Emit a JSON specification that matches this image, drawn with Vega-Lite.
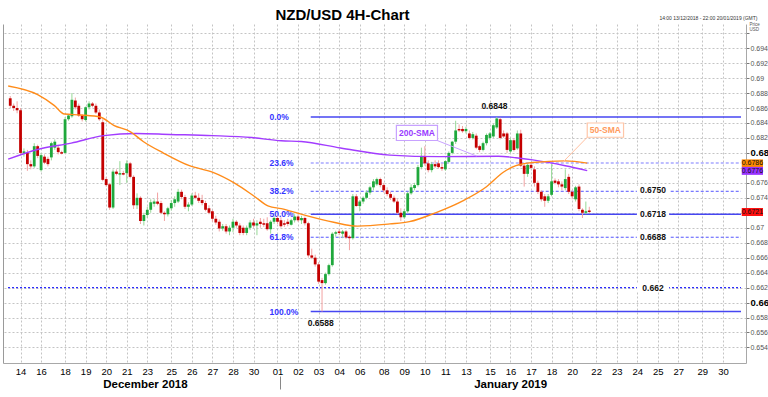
{
"$schema": "https://vega.github.io/schema/vega-lite/v6.json",
"width": 743, "height": 339,
"autosize": {"type": "none"},
"padding": {"left": 3, "top": 24, "right": 22, "bottom": 34},
"background": "white",
"config": {"view": {"stroke": null}, "font": "Liberation Sans"},
"datasets": {
"candles": [
{"i":0,"o":0.6873,"h":0.6876,"l":0.6860,"c":0.6863},
{"i":1,"o":0.6863,"h":0.6866,"l":0.6856,"c":0.6860},
{"i":2,"o":0.6860,"h":0.6869,"l":0.6853,"c":0.6857},
{"i":3,"o":0.6857,"h":0.6860,"l":0.6797,"c":0.6800},
{"i":4,"o":0.6800,"h":0.6806,"l":0.6795,"c":0.6802},
{"i":5,"o":0.6800,"h":0.6804,"l":0.6776,"c":0.6785},
{"i":6,"o":0.6785,"h":0.6790,"l":0.6778,"c":0.6782},
{"i":7,"o":0.6782,"h":0.6813,"l":0.6780,"c":0.6809},
{"i":8,"o":0.6809,"h":0.6811,"l":0.6793,"c":0.6796},
{"i":9,"o":0.6777,"h":0.6800,"l":0.6775,"c":0.6797},
{"i":10,"o":0.6795,"h":0.6798,"l":0.6785,"c":0.6787},
{"i":11,"o":0.6792,"h":0.6795,"l":0.6782,"c":0.6785},
{"i":12,"o":0.6794,"h":0.6815,"l":0.6790,"c":0.6813},
{"i":13,"o":0.6807,"h":0.6818,"l":0.6804,"c":0.6815},
{"i":14,"o":0.6807,"h":0.6810,"l":0.6798,"c":0.6801},
{"i":15,"o":0.6801,"h":0.6803,"l":0.6798,"c":0.6799},
{"i":16,"o":0.6800,"h":0.6848,"l":0.6799,"c":0.6845},
{"i":17,"o":0.6845,"h":0.6852,"l":0.6843,"c":0.6850},
{"i":18,"o":0.6849,"h":0.6880,"l":0.6847,"c":0.6871},
{"i":19,"o":0.6870,"h":0.6874,"l":0.6858,"c":0.6861},
{"i":20,"o":0.6863,"h":0.6866,"l":0.6848,"c":0.6850},
{"i":21,"o":0.6850,"h":0.6852,"l":0.6842,"c":0.6845},
{"i":22,"o":0.6844,"h":0.6862,"l":0.6842,"c":0.6861},
{"i":23,"o":0.6861,"h":0.6869,"l":0.6858,"c":0.6866},
{"i":24,"o":0.6866,"h":0.6868,"l":0.6861,"c":0.6863},
{"i":25,"o":0.6863,"h":0.6866,"l":0.6852,"c":0.6854},
{"i":26,"o":0.6854,"h":0.6858,"l":0.6843,"c":0.6845},
{"i":27,"o":0.6841,"h":0.6845,"l":0.6762,"c":0.6764},
{"i":28,"o":0.6765,"h":0.6768,"l":0.6755,"c":0.6757},
{"i":29,"o":0.6758,"h":0.6760,"l":0.6724,"c":0.6727},
{"i":30,"o":0.6727,"h":0.6778,"l":0.6725,"c":0.6775},
{"i":31,"o":0.6775,"h":0.6778,"l":0.6770,"c":0.6772},
{"i":32,"o":0.6771,"h":0.6789,"l":0.6757,"c":0.6773},
{"i":33,"o":0.6773,"h":0.6776,"l":0.6770,"c":0.6771},
{"i":34,"o":0.6773,"h":0.6790,"l":0.6760,"c":0.6786},
{"i":35,"o":0.6786,"h":0.6788,"l":0.6766,"c":0.6768},
{"i":36,"o":0.6768,"h":0.6770,"l":0.6725,"c":0.6730},
{"i":37,"o":0.6730,"h":0.6746,"l":0.6725,"c":0.6740},
{"i":38,"o":0.6740,"h":0.6742,"l":0.6705,"c":0.6709},
{"i":39,"o":0.6709,"h":0.6720,"l":0.6703,"c":0.6717},
{"i":40,"o":0.6717,"h":0.6728,"l":0.6713,"c":0.6724},
{"i":41,"o":0.6724,"h":0.6738,"l":0.6720,"c":0.6734},
{"i":42,"o":0.6732,"h":0.6738,"l":0.6728,"c":0.6735},
{"i":43,"o":0.6735,"h":0.6747,"l":0.6730,"c":0.6732},
{"i":44,"o":0.6733,"h":0.6736,"l":0.6718,"c":0.6720},
{"i":45,"o":0.6720,"h":0.6722,"l":0.6709,"c":0.6718},
{"i":46,"o":0.6718,"h":0.6728,"l":0.6715,"c":0.6726},
{"i":47,"o":0.6726,"h":0.6737,"l":0.6723,"c":0.6733},
{"i":48,"o":0.6733,"h":0.6742,"l":0.6728,"c":0.6738},
{"i":49,"o":0.6735,"h":0.6752,"l":0.6733,"c":0.6748},
{"i":50,"o":0.6748,"h":0.6751,"l":0.6738,"c":0.6741},
{"i":51,"o":0.6741,"h":0.6744,"l":0.6725,"c":0.6728},
{"i":52,"o":0.6728,"h":0.6734,"l":0.6722,"c":0.6731},
{"i":53,"o":0.6731,"h":0.6746,"l":0.6729,"c":0.6743},
{"i":54,"o":0.6743,"h":0.6748,"l":0.6738,"c":0.6740},
{"i":55,"o":0.6740,"h":0.6746,"l":0.6733,"c":0.6736},
{"i":56,"o":0.6737,"h":0.6744,"l":0.6730,"c":0.6733},
{"i":57,"o":0.6733,"h":0.6736,"l":0.6722,"c":0.6724},
{"i":58,"o":0.6726,"h":0.6730,"l":0.6718,"c":0.6720},
{"i":59,"o":0.6722,"h":0.6724,"l":0.6708,"c":0.6712},
{"i":60,"o":0.6712,"h":0.6716,"l":0.6704,"c":0.6707},
{"i":61,"o":0.6708,"h":0.6711,"l":0.6695,"c":0.6699},
{"i":62,"o":0.6699,"h":0.6705,"l":0.6696,"c":0.6702},
{"i":63,"o":0.6702,"h":0.6705,"l":0.6692,"c":0.6695},
{"i":64,"o":0.6695,"h":0.6703,"l":0.6690,"c":0.6700},
{"i":65,"o":0.6700,"h":0.6712,"l":0.6694,"c":0.6708},
{"i":66,"o":0.6708,"h":0.6710,"l":0.6700,"c":0.6703},
{"i":67,"o":0.6703,"h":0.6706,"l":0.6690,"c":0.6693},
{"i":68,"o":0.6700,"h":0.6703,"l":0.6690,"c":0.6693},
{"i":69,"o":0.6693,"h":0.6703,"l":0.6690,"c":0.6700},
{"i":70,"o":0.6700,"h":0.6710,"l":0.6697,"c":0.6707},
{"i":71,"o":0.6707,"h":0.6712,"l":0.6700,"c":0.6703},
{"i":72,"o":0.6703,"h":0.6710,"l":0.6690,"c":0.6706},
{"i":73,"o":0.6708,"h":0.6713,"l":0.6700,"c":0.6705},
{"i":74,"o":0.6706,"h":0.6712,"l":0.6701,"c":0.6704},
{"i":75,"o":0.6706,"h":0.6714,"l":0.6696,"c":0.6698},
{"i":76,"o":0.6698,"h":0.6710,"l":0.6692,"c":0.6708},
{"i":77,"o":0.6708,"h":0.6716,"l":0.6705,"c":0.6713},
{"i":78,"o":0.6713,"h":0.6716,"l":0.6705,"c":0.6708},
{"i":79,"o":0.6710,"h":0.6714,"l":0.6700,"c":0.6702},
{"i":80,"o":0.6706,"h":0.6710,"l":0.6701,"c":0.6704},
{"i":81,"o":0.6708,"h":0.6712,"l":0.6702,"c":0.6705},
{"i":82,"o":0.6704,"h":0.6712,"l":0.6703,"c":0.6710},
{"i":83,"o":0.6710,"h":0.6718,"l":0.6707,"c":0.6715},
{"i":84,"o":0.6715,"h":0.6718,"l":0.6708,"c":0.6710},
{"i":85,"o":0.6710,"h":0.6716,"l":0.6705,"c":0.6713},
{"i":86,"o":0.6713,"h":0.6715,"l":0.6703,"c":0.6706},
{"i":87,"o":0.6706,"h":0.6708,"l":0.6660,"c":0.6663},
{"i":88,"o":0.6663,"h":0.6672,"l":0.6658,"c":0.6660},
{"i":89,"o":0.6660,"h":0.6664,"l":0.6648,"c":0.6651},
{"i":90,"o":0.6651,"h":0.6654,"l":0.6625,"c":0.6628},
{"i":91,"o":0.6630,"h":0.6633,"l":0.6588,"c":0.6626},
{"i":92,"o":0.6626,"h":0.6640,"l":0.6624,"c":0.6638},
{"i":93,"o":0.6638,"h":0.6652,"l":0.6636,"c":0.6650},
{"i":94,"o":0.6650,"h":0.6694,"l":0.6648,"c":0.6692},
{"i":95,"o":0.6692,"h":0.6696,"l":0.6688,"c":0.6694},
{"i":96,"o":0.6695,"h":0.6698,"l":0.6690,"c":0.6693},
{"i":97,"o":0.6692,"h":0.6697,"l":0.6686,"c":0.6695},
{"i":98,"o":0.6695,"h":0.6697,"l":0.6685,"c":0.6687},
{"i":99,"o":0.6688,"h":0.6690,"l":0.6670,"c":0.6686},
{"i":100,"o":0.6686,"h":0.6745,"l":0.6684,"c":0.6742},
{"i":101,"o":0.6742,"h":0.6745,"l":0.6728,"c":0.6729},
{"i":102,"o":0.6729,"h":0.6737,"l":0.6722,"c":0.6735},
{"i":103,"o":0.6735,"h":0.6742,"l":0.6732,"c":0.6740},
{"i":104,"o":0.6740,"h":0.6750,"l":0.6738,"c":0.6747},
{"i":105,"o":0.6747,"h":0.6756,"l":0.6744,"c":0.6754},
{"i":106,"o":0.6754,"h":0.6765,"l":0.6750,"c":0.6762},
{"i":107,"o":0.6758,"h":0.6767,"l":0.6756,"c":0.6765},
{"i":108,"o":0.6765,"h":0.6767,"l":0.6754,"c":0.6757},
{"i":109,"o":0.6757,"h":0.6760,"l":0.6747,"c":0.6750},
{"i":110,"o":0.6750,"h":0.6754,"l":0.6742,"c":0.6745},
{"i":111,"o":0.6745,"h":0.6748,"l":0.6737,"c":0.6740},
{"i":112,"o":0.6740,"h":0.6743,"l":0.6733,"c":0.6735},
{"i":113,"o":0.6735,"h":0.6738,"l":0.6718,"c":0.6720},
{"i":114,"o":0.6720,"h":0.6726,"l":0.6709,"c":0.6714},
{"i":115,"o":0.6714,"h":0.6725,"l":0.6712,"c":0.6722},
{"i":116,"o":0.6722,"h":0.6748,"l":0.6720,"c":0.6746},
{"i":117,"o":0.6746,"h":0.6758,"l":0.6744,"c":0.6754},
{"i":118,"o":0.6753,"h":0.6760,"l":0.6750,"c":0.6757},
{"i":119,"o":0.6757,"h":0.6784,"l":0.6755,"c":0.6781},
{"i":120,"o":0.6781,"h":0.6807,"l":0.6778,"c":0.6796},
{"i":121,"o":0.6796,"h":0.6809,"l":0.6783,"c":0.6786},
{"i":122,"o":0.6786,"h":0.6790,"l":0.6774,"c":0.6777},
{"i":123,"o":0.6777,"h":0.6788,"l":0.6774,"c":0.6785},
{"i":124,"o":0.6785,"h":0.6790,"l":0.6780,"c":0.6782},
{"i":125,"o":0.6786,"h":0.6790,"l":0.6779,"c":0.6781},
{"i":126,"o":0.6781,"h":0.6786,"l":0.6776,"c":0.6779},
{"i":127,"o":0.6778,"h":0.6790,"l":0.6776,"c":0.6789},
{"i":128,"o":0.6788,"h":0.6802,"l":0.6786,"c":0.6800},
{"i":129,"o":0.6800,"h":0.6816,"l":0.6798,"c":0.6815},
{"i":130,"o":0.6815,"h":0.6843,"l":0.6812,"c":0.6830},
{"i":131,"o":0.6832,"h":0.6838,"l":0.6828,"c":0.6830},
{"i":132,"o":0.6832,"h":0.6836,"l":0.6827,"c":0.6829},
{"i":133,"o":0.6829,"h":0.6835,"l":0.6826,"c":0.6832},
{"i":134,"o":0.6826,"h":0.6830,"l":0.6818,"c":0.6820},
{"i":135,"o":0.6820,"h":0.6828,"l":0.6818,"c":0.6825},
{"i":136,"o":0.6823,"h":0.6826,"l":0.6805,"c":0.6807},
{"i":137,"o":0.6809,"h":0.6811,"l":0.6801,"c":0.6804},
{"i":138,"o":0.6804,"h":0.6815,"l":0.6802,"c":0.6813},
{"i":139,"o":0.6813,"h":0.6826,"l":0.6810,"c":0.6824},
{"i":140,"o":0.6820,"h":0.6828,"l":0.6817,"c":0.6826},
{"i":141,"o":0.6822,"h":0.6839,"l":0.6820,"c":0.6837},
{"i":142,"o":0.6834,"h":0.6848,"l":0.6832,"c":0.6846},
{"i":143,"o":0.6845,"h":0.6847,"l":0.6818,"c":0.6820},
{"i":144,"o":0.6826,"h":0.6830,"l":0.6820,"c":0.6822},
{"i":145,"o":0.6826,"h":0.6828,"l":0.6800,"c":0.6804},
{"i":146,"o":0.6802,"h":0.6820,"l":0.6800,"c":0.6817},
{"i":147,"o":0.6817,"h":0.6820,"l":0.6802,"c":0.6804},
{"i":148,"o":0.6806,"h":0.6830,"l":0.6804,"c":0.6826},
{"i":149,"o":0.6826,"h":0.6831,"l":0.6781,"c":0.6783},
{"i":150,"o":0.6783,"h":0.6785,"l":0.6755,"c":0.6772},
{"i":151,"o":0.6772,"h":0.6786,"l":0.6768,"c":0.6784},
{"i":152,"o":0.6784,"h":0.6787,"l":0.6778,"c":0.6780},
{"i":153,"o":0.6778,"h":0.6782,"l":0.6755,"c":0.6760},
{"i":154,"o":0.6760,"h":0.6763,"l":0.6745,"c":0.6748},
{"i":155,"o":0.6748,"h":0.6750,"l":0.6735,"c":0.6738},
{"i":156,"o":0.6742,"h":0.6745,"l":0.6728,"c":0.6736},
{"i":157,"o":0.6736,"h":0.6745,"l":0.6733,"c":0.6742},
{"i":158,"o":0.6744,"h":0.6785,"l":0.6742,"c":0.6762},
{"i":159,"o":0.6763,"h":0.6766,"l":0.6758,"c":0.6760},
{"i":160,"o":0.6762,"h":0.6765,"l":0.6754,"c":0.6758},
{"i":161,"o":0.6758,"h":0.6762,"l":0.6750,"c":0.6755},
{"i":162,"o":0.6753,"h":0.6778,"l":0.6750,"c":0.6765},
{"i":163,"o":0.6768,"h":0.6772,"l":0.6745,"c":0.6748},
{"i":164,"o":0.6748,"h":0.6750,"l":0.6738,"c":0.6742},
{"i":165,"o":0.6738,"h":0.6756,"l":0.6735,"c":0.6754},
{"i":166,"o":0.6755,"h":0.6758,"l":0.6722,"c":0.6725},
{"i":167,"o":0.6724,"h":0.6726,"l":0.6713,"c":0.6720},
{"i":168,"o":0.6720,"h":0.6735,"l":0.6718,"c":0.6722},
{"i":169,"o":0.6723,"h":0.6728,"l":0.6719,"c":0.6721}
],
"sma200": [
{"i":-0.6,"v":0.67916},{"i":8,"v":0.68045},{"i":17.8,"v":0.68131},{"i":27.3,"v":0.68231},{"i":36.8,"v":0.6826},{"i":46.6,"v":0.68247},{"i":59,"v":0.68231},{"i":70.5,"v":0.68205},{"i":79.1,"v":0.68162},{"i":84.9,"v":0.68153},{"i":96.4,"v":0.68066},{"i":110.8,"v":0.67971},{"i":125.2,"v":0.6795},{"i":142.5,"v":0.67955},{"i":147.6,"v":0.67936},{"i":152.5,"v":0.67907},{"i":162,"v":0.67829},{"i":168.4,"v":0.67764}
],
"sma50": [
{"i":-0.6,"v":0.68895},{"i":8,"v":0.68779},{"i":12.9,"v":0.68632},{"i":15.8,"v":0.6852},{"i":20.6,"v":0.68507},{"i":26.4,"v":0.68477},{"i":30.2,"v":0.68369},{"i":35.1,"v":0.68282},{"i":38.8,"v":0.68153},{"i":44.6,"v":0.68001},{"i":52.3,"v":0.67829},{"i":59,"v":0.67742},{"i":65.6,"v":0.67592},{"i":71.3,"v":0.67418},{"i":75.4,"v":0.67288},{"i":79.1,"v":0.67255},{"i":84.9,"v":0.67181},{"i":94.4,"v":0.67073},{"i":101.3,"v":0.67022},{"i":110.8,"v":0.67051},{"i":116.5,"v":0.67081},{"i":124.3,"v":0.67203},{"i":131.8,"v":0.67353},{"i":139,"v":0.67548},{"i":143.9,"v":0.67742},{"i":147.6,"v":0.67829},{"i":152.5,"v":0.67872},{"i":162,"v":0.67894},{"i":168.4,"v":0.67864}
],
"fib": [
{"level":"0.0%","price":0.6848,"kind":"solid"},{"level":"23.6%","price":0.67866,"kind":"light"},{"level":"38.2%","price":0.67487,"kind":"dashed"},{"level":"50.0%","price":0.6718,"kind":"solid"},{"level":"61.8%","price":0.66873,"kind":"dashed"},{"level":"100.0%","price":0.6588,"kind":"solid"}
],
"levels": [
{"label":"0.6750","price":0.675},{"label":"0.6718","price":0.6718},{"label":"0.6688","price":0.6688},{"label":"0.662","price":0.662}
],
"extremes": [
{"label":"0.6848","price":0.6848,"i":141.3,"kind":"high"},{"label":"0.6588","price":0.6588,"i":90.6,"kind":"low"}
],
"tags": [
{"label":"0.6786","price":0.6786,"kind":"50-SMA"},{"label":"0.6776","price":0.6776,"kind":"200-SMA"},{"label":"0.6721","price":0.6721,"kind":"last"}
]
},
"layer": [
{"data": {"name": "fib"}, "transform": [{"filter": "datum.kind == 'solid'"}], "mark": {"type": "rule", "color": "#4646f2", "strokeWidth": 1.6},
 "encoding": {
  "x": {"datum": 87.7, "type": "quantitative", "scale": {"domain": [-0.656, 213.28], "nice": false, "zero": false}, "axis": null},
  "x2": {"datum": 213.28},
  "y": {"field": "price", "type": "quantitative", "scale": {"domain": [0.65259, 0.69656], "nice": false, "zero": false}, "axis": null}
 }},
{"data": {"name": "fib"}, "transform": [{"filter": "datum.kind == 'dashed'"}], "mark": {"type": "rule", "color": "#5555ff", "strokeWidth": 1, "strokeDash": [3,2]},
 "encoding": {
  "x": {"datum": 87.7, "type": "quantitative", "scale": {"domain": [-0.656, 213.28], "nice": false, "zero": false}, "axis": null},
  "x2": {"datum": 213.28},
  "y": {"field": "price", "type": "quantitative", "scale": {"domain": [0.65259, 0.69656], "nice": false, "zero": false}, "axis": null}
 }},
{"data": {"name": "fib"}, "transform": [{"filter": "datum.kind == 'light'"}], "mark": {"type": "rule", "color": "#a8a8ff", "strokeWidth": 1.5, "strokeDash": [3,2]},
 "encoding": {
  "x": {"datum": 87.7, "type": "quantitative", "scale": {"domain": [-0.656, 213.28], "nice": false, "zero": false}, "axis": null},
  "x2": {"datum": 213.28},
  "y": {"field": "price", "type": "quantitative", "scale": {"domain": [0.65259, 0.69656], "nice": false, "zero": false}, "axis": null}
 }},
{"data": {"name": "levels"}, "transform": [{"filter": "datum.label == '0.662'"}],
 "mark": {"type": "rule", "color": "#2d2dff", "strokeDash": [2,2], "strokeWidth": 1.2},
 "encoding": {
  "x": {"datum": -0.656, "type": "quantitative", "scale": {"domain": [-0.656, 213.28], "nice": false, "zero": false}, "axis": null},
  "x2": {"datum": 213.28},
  "y": {"field": "price", "type": "quantitative", "scale": {"domain": [0.65259, 0.69656], "nice": false, "zero": false}, "axis": null}
 }},
{"data": {"name": "levels"}, "mark": {"type": "bar", "color": "white", "height": 9, "orient": "horizontal"},
 "encoding": {
  "x": {"datum": 182.9, "type": "quantitative", "scale": {"domain": [-0.656, 213.28], "nice": false, "zero": false}, "axis": null},
  "x2": {"datum": 192.3},
  "y": {"field": "price", "type": "quantitative", "scale": {"domain": [0.65259, 0.69656], "nice": false, "zero": false}, "axis": null}
 }},
{"data": {"name": "levels"}, "mark": {"type": "text", "font": "Liberation Sans", "fontSize": 8.5, "fontWeight": "bold", "color": "#111", "align": "center", "baseline": "middle"},
 "encoding": {
  "x": {"datum": 187.6, "type": "quantitative", "scale": {"domain": [-0.656, 213.28], "nice": false, "zero": false}, "axis": null},
  "y": {"field": "price", "type": "quantitative", "scale": {"domain": [0.65259, 0.69656], "nice": false, "zero": false}, "axis": null},
  "text": {"field": "label"}
 }},
{"data": {"name": "fib"}, "mark": {"type": "text", "font": "Liberation Sans", "fontSize": 8.5, "fontWeight": "bold", "color": "#3535ff", "align": "left", "baseline": "middle"},
 "encoding": {
  "x": {"datum": 75.65, "type": "quantitative", "scale": {"domain": [-0.656, 213.28], "nice": false, "zero": false}, "axis": null},
  "y": {"field": "price", "type": "quantitative", "scale": {"domain": [0.65259, 0.69656], "nice": false, "zero": false}, "axis": null},
  "text": {"field": "level"}
 }},
{"data": {"name": "extremes"}, "transform": [{"filter": "datum.kind == 'high'"}],
 "mark": {"type": "text", "font": "Liberation Sans", "fontSize": 8.5, "fontWeight": "bold", "color": "#111", "align": "center", "baseline": "middle", "dy": -11},
 "encoding": {
  "x": {"field": "i", "type": "quantitative", "scale": {"domain": [-0.656, 213.28], "nice": false, "zero": false}, "axis": null},
  "y": {"field": "price", "type": "quantitative", "scale": {"domain": [0.65259, 0.69656], "nice": false, "zero": false}, "axis": null},
  "text": {"field": "label"}
 }},
{"data": {"name": "extremes"}, "transform": [{"filter": "datum.kind == 'low'"}],
 "mark": {"type": "text", "font": "Liberation Sans", "fontSize": 8.5, "fontWeight": "bold", "color": "#111", "align": "center", "baseline": "middle", "dy": 11},
 "encoding": {
  "x": {"field": "i", "type": "quantitative", "scale": {"domain": [-0.656, 213.28], "nice": false, "zero": false}, "axis": null},
  "y": {"field": "price", "type": "quantitative", "scale": {"domain": [0.65259, 0.69656], "nice": false, "zero": false}, "axis": null},
  "text": {"field": "label"}
 }},
{"data": {"name": "candles"}, "mark": {"type": "rule", "strokeWidth": 1},
 "encoding": {
  "x": {"field": "i", "type": "quantitative", "scale": {"domain": [-0.656, 213.28], "nice": false, "zero": false},
        "axis": {"orient": "bottom", "values": [3,9,16,22,28,34,40,47,53,59,65,71,78,84,90,96,102,109,115,121,127,133,140,146,152,158,164,171,177,183,189,195,202,208],
                 "labelExpr": "['14','16','18','19','20','21','23','25','26','27','28','30','01','02','03','04','06','08','09','10','11','13','15','16','17','18','20','22','23','24','25','27','29','30'][indexof([3,9,16,22,28,34,40,47,53,59,65,71,78,84,90,96,102,109,115,121,127,133,140,146,152,158,164,171,177,183,189,195,202,208], datum.value)]",
                 "title": null, "grid": true, "gridColor": "#c4c4c4", "gridDash": [2,2], "gridWidth": 1, "ticks": false, "domain": true, "domainColor": "#a8a8a8", "domainWidth": 1,
                 "labelFont": "Liberation Sans", "labelFontSize": 9.5, "labelColor": "#000", "labelPadding": 3, "labelFlush": false, "labelOverlap": false, "labelBound": false}},
  "y": {"field": "l", "type": "quantitative", "scale": {"domain": [0.65259, 0.69656], "nice": false, "zero": false},
        "axis": {"orient": "right", "values": [0.654,0.656,0.658,0.66,0.662,0.664,0.666,0.668,0.67,0.672,0.674,0.676,0.678,0.68,0.682,0.684,0.686,0.688,0.69,0.692,0.694,0.696],
                 "format": ".3~f", "labelExpr": "(datum.value > 0.695 || abs(datum.value - 0.678) < 1e-6 || abs(datum.value - 0.672) < 1e-6) ? '' : datum.label",
                 "grid": true, "gridColor": "#c4c4c4", "gridDash": [2,2], "gridWidth": 1,
                 "ticks": true, "tickSize": 3, "tickColor": "#777", "domain": true, "domainColor": "#a8a8a8",
                 "labelFont": "Liberation Sans", "labelPadding": 1, "labelOverlap": false, "labelBound": false, "labelFlush": false,
                 "labelFontSize": {"condition": {"test": "abs(datum.value - 0.68) < 1e-6 || abs(datum.value - 0.66) < 1e-6", "value": 9.5}, "value": 7},
                 "labelFontWeight": {"condition": {"test": "abs(datum.value - 0.68) < 1e-6 || abs(datum.value - 0.66) < 1e-6", "value": "bold"}, "value": "normal"},
                 "labelColor": {"condition": {"test": "abs(datum.value - 0.68) < 1e-6 || abs(datum.value - 0.66) < 1e-6", "value": "#000"}, "value": "#555"},
                 "title": ["Price", "USD"], "titleFont": "Liberation Sans", "titleFontSize": 4.5, "titleFontWeight": "normal", "titleColor": "#555", "titleAngle": 0, "titleAlign": "left", "titleBaseline": "top", "titleX": 3, "titleY": -3, "titleLineHeight": 5.5}},
  "y2": {"field": "h"},
  "color": {"condition": {"test": "datum.c >= datum.o", "value": "#96d896"}, "value": "#f2a2a2"}
 }},
{"data": {"name": "candles"}, "mark": {"type": "bar", "width": 2.8},
 "encoding": {
  "x": {"field": "i", "type": "quantitative", "scale": {"domain": [-0.656, 213.28], "nice": false, "zero": false},
        "axis": {"orient": "bottom", "values": [39.3, 78.6, 145.9], "labelExpr": "datum.value < 50 ? 'December 2018' : (datum.value > 100 ? 'January 2019' : '')",
                 "title": null, "grid": false, "domain": false, "offset": 13, "ticks": true, "tickSize": 13, "tickWidth": 1,
                 "tickColor": {"condition": {"test": "datum.value > 70 && datum.value < 90", "value": "#888"}, "value": "transparent"},
                 "labelFont": "Liberation Sans", "labelFontSize": 11.5, "labelFontWeight": "bold", "labelColor": "#000", "labelPadding": -11, "labelFlush": false, "labelOverlap": false, "labelBound": false}},
  "y": {"field": "o", "type": "quantitative", "scale": {"domain": [0.65259, 0.69656], "nice": false, "zero": false},
        "axis": {"orient": "left", "labels": false, "ticks": false, "grid": false, "domain": true, "domainColor": "#9a9a9a",
                 "title": "14:00 13/12/2018 - 22:00 20/01/2019 (GMT)", "titleFont": "Liberation Sans", "titleFontSize": 5, "titleFontWeight": "normal", "titleColor": "#333",
                 "titleAngle": 0, "titleAlign": "right", "titleBaseline": "alphabetic", "titleX": 754, "titleY": -5}},
  "y2": {"field": "c"},
  "color": {"condition": {"test": "datum.c >= datum.o", "value": "#1fa83c"}, "value": "#c40000"}
 }},
{"data": {"name": "sma200"}, "mark": {"type": "line", "interpolate": "monotone", "strokeWidth": 1.4, "color": "#a23cff"},
 "encoding": {
  "x": {"field": "i", "type": "quantitative", "scale": {"domain": [-0.656, 213.28], "nice": false, "zero": false},
        "axis": {"orient": "top", "labels": false, "ticks": false, "grid": false, "domain": false,
                 "title": "NZD/USD 4H-Chart", "titleFont": "Liberation Sans", "titleFontSize": 15, "titleFontWeight": "bold", "titleColor": "#000",
                 "titleAlign": "center", "titleX": 339, "titleY": -5, "titleBaseline": "alphabetic"}},
  "y": {"field": "v", "type": "quantitative", "scale": {"domain": [0.65259, 0.69656], "nice": false, "zero": false}, "axis": null}
 }},
{"data": {"name": "sma50"}, "mark": {"type": "line", "interpolate": "monotone", "strokeWidth": 1.4, "color": "#ff8c1a"},
 "encoding": {
  "x": {"field": "i", "type": "quantitative", "scale": {"domain": [-0.656, 213.28], "nice": false, "zero": false}, "axis": null},
  "y": {"field": "v", "type": "quantitative", "scale": {"domain": [0.65259, 0.69656], "nice": false, "zero": false}, "axis": null}
 }},
{"data": {"values": [{}]}, "mark": {"type": "rule", "color": "#c8a2ff", "strokeWidth": 1},
 "encoding": {
  "x": {"datum": 124.6, "type": "quantitative", "scale": {"domain": [-0.656, 213.28], "nice": false, "zero": false}, "axis": null},
  "x2": {"datum": 136.1},
  "y": {"datum": 0.68166, "type": "quantitative", "scale": {"domain": [0.65259, 0.69656], "nice": false, "zero": false}, "axis": null},
  "y2": {"datum": 0.67958}
 }},
{"data": {"values": [{}]}, "mark": {"type": "rect", "fill": "white", "stroke": "#c8a2ff", "strokeWidth": 1.2},
 "encoding": {
  "x": {"datum": 112.7, "type": "quantitative", "scale": {"domain": [-0.656, 213.28], "nice": false, "zero": false}, "axis": null},
  "x2": {"datum": 124.7},
  "y": {"datum": 0.68369, "type": "quantitative", "scale": {"domain": [0.65259, 0.69656], "nice": false, "zero": false}, "axis": null},
  "y2": {"datum": 0.68166}
 }},
{"data": {"values": [{}]}, "mark": {"type": "text", "text": "200-SMA", "font": "Liberation Sans", "fontSize": 8.5, "fontWeight": "bold", "color": "#9a3cff", "align": "center", "baseline": "middle"},
 "encoding": {
  "x": {"datum": 118.7, "type": "quantitative", "scale": {"domain": [-0.656, 213.28], "nice": false, "zero": false}, "axis": null},
  "y": {"datum": 0.68268, "type": "quantitative", "scale": {"domain": [0.65259, 0.69656], "nice": false, "zero": false}, "axis": null}
 }},
{"data": {"values": [{}]}, "mark": {"type": "rule", "color": "#ffc0a0", "strokeWidth": 1},
 "encoding": {
  "x": {"datum": 168.4, "type": "quantitative", "scale": {"domain": [-0.656, 213.28], "nice": false, "zero": false}, "axis": null},
  "x2": {"datum": 161.2},
  "y": {"datum": 0.68209, "type": "quantitative", "scale": {"domain": [0.65259, 0.69656], "nice": false, "zero": false}, "axis": null},
  "y2": {"datum": 0.67872}
 }},
{"data": {"values": [{}]}, "mark": {"type": "rect", "fill": "white", "stroke": "#ffc6a8", "strokeWidth": 1.2},
 "encoding": {
  "x": {"datum": 168.4, "type": "quantitative", "scale": {"domain": [-0.656, 213.28], "nice": false, "zero": false}, "axis": null},
  "x2": {"datum": 179.0},
  "y": {"datum": 0.684, "type": "quantitative", "scale": {"domain": [0.65259, 0.69656], "nice": false, "zero": false}, "axis": null},
  "y2": {"datum": 0.68209}
 }},
{"data": {"values": [{}]}, "mark": {"type": "text", "text": "50-SMA", "font": "Liberation Sans", "fontSize": 8.5, "fontWeight": "bold", "color": "#ff9a5c", "align": "center", "baseline": "middle"},
 "encoding": {
  "x": {"datum": 173.7, "type": "quantitative", "scale": {"domain": [-0.656, 213.28], "nice": false, "zero": false}, "axis": null},
  "y": {"datum": 0.68305, "type": "quantitative", "scale": {"domain": [0.65259, 0.69656], "nice": false, "zero": false}, "axis": null}
 }},
{"data": {"name": "tags"}, "mark": {"type": "bar", "height": 8, "orient": "horizontal"},
 "encoding": {
  "x": {"datum": 213.5, "type": "quantitative", "scale": {"domain": [-0.656, 213.28], "nice": false, "zero": false}, "axis": null},
  "x2": {"datum": 219.7},
  "y": {"field": "price", "type": "quantitative", "scale": {"domain": [0.65259, 0.69656], "nice": false, "zero": false}, "axis": null},
  "color": {"field": "kind", "type": "nominal", "scale": {"domain": ["50-SMA","200-SMA","last"], "range": ["#ff8a00","#9933ff","#ff1010"]}, "legend": null}
 }},
{"data": {"name": "tags"}, "mark": {"type": "text", "font": "Liberation Sans", "fontSize": 7, "color": "#111", "align": "center", "baseline": "middle"},
 "encoding": {
  "x": {"datum": 216.6, "type": "quantitative", "scale": {"domain": [-0.656, 213.28], "nice": false, "zero": false}, "axis": null},
  "y": {"field": "price", "type": "quantitative", "scale": {"domain": [0.65259, 0.69656], "nice": false, "zero": false}, "axis": null},
  "text": {"field": "label"}
 }}
],
"resolve": {"axis": {"x": "independent", "y": "independent"}}
}
